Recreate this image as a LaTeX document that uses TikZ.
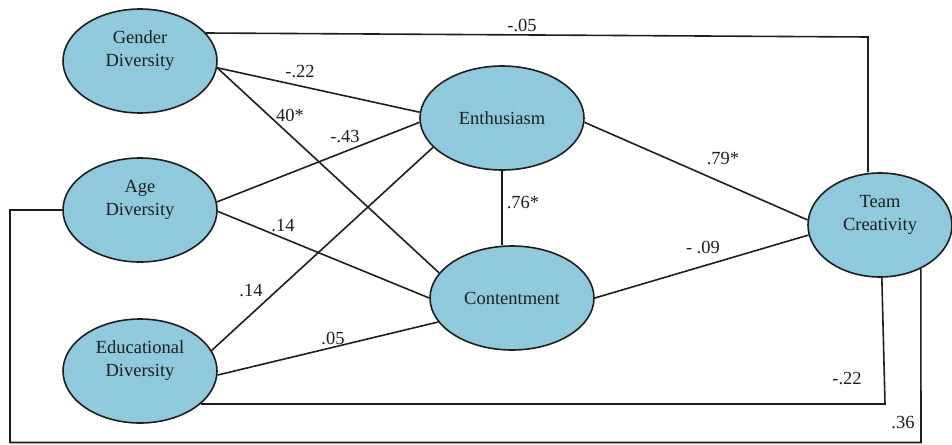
\documentclass[tikz,border=0pt]{standalone}
\usepackage{fontspec}
\setmainfont{Liberation Serif}
\usetikzlibrary{shapes.geometric}
\definecolor{fillblue}{RGB}{143,201,219}
\definecolor{ink}{RGB}{30,30,30}
\begin{document}
\begin{tikzpicture}[x=1pt,y=-1pt,
  latent/.style={ellipse,draw=ink,line width=1.6pt,fill=fillblue,inner sep=0pt,
                 font=\fontsize{18.5}{23}\selectfont,text=ink},
  txt/.style={font=\fontsize{18.5}{23}\selectfont,text=ink,align=center,inner sep=0pt},
  lbl/.style={font=\fontsize{18.5}{22}\selectfont,text=ink,inner sep=0pt},
  conn/.style={draw=ink,line width=1.6pt}]
\useasboundingbox (0,0) rectangle (952,444);

% latent variables
\node[latent,minimum width=154pt,minimum height=104pt] (G)  at (140,61)  {};
\node[latent,minimum width=154pt,minimum height=104pt] (A)  at (140,210) {};
\node[latent,minimum width=154pt,minimum height=104pt] (Ed) at (140,371) {};
\node[latent,minimum width=164pt,minimum height=104pt] (En) at (502,118) {Enthusiasm};
\node[latent,minimum width=164pt,minimum height=104pt] (C)  at (512,298) {Contentment};
\node[latent,minimum width=144pt,minimum height=104pt] (T)  at (880,225) {};

\node[txt] (Gt)  at (140,51)  {Gender\\Diversity};
\node[txt] (At)  at (140,200) {Age\\Diversity};
\node[txt] (Edt) at (140,361) {Educational\\Diversity};
\node[txt] (Tt)  at (880,215) {Team\\Creativity};

% corner points
\coordinate (c1) at (868,37);
\coordinate (c2) at (885,404);
\coordinate (c3) at (921,442.5);
\coordinate (c4) at (10,442.5);
\coordinate (c5) at (10,210);

% connectors
\draw[conn] (G.23) -- (c1) -- (c1 |- T.north);
\draw[conn] (G.-5) -- (En.176);
\draw[conn] (G.-5) -- (C.161);
\draw[conn] (A.6) -- (En.183);
\draw[conn] (A.-1) -- (C.180);
\draw[conn] (Ed.16) -- (En.203);
\draw[conn] (Ed.-3) -- (C.198);
\draw[conn] (En.south) -- (En.south |- C.north);
\draw[conn] (En.-3) -- (T.176);
\draw[conn] (C.east) -- (T.188);
\draw[conn] (T.-88) -- (c2) -- (c2 -| Ed.-28);
\draw[conn] (T.-47) -- (c3) -- (c4) -- (c5) -- (A.west);

% coefficients
\node[lbl] (l1)  at (522,25)  {-.05};
\node[lbl] (l2)  at (300,72)  {-.22};
\node[lbl] (l3)  at (290,115) {40*};
\node[lbl] (l4)  at (345,137) {-.43};
\node[lbl] (l5)  at (283,226) {.14};
\node[lbl] (l6)  at (251,291) {.14};
\node[lbl] (l7)  at (333,338) {.05};
\node[lbl] (l8)  at (523,203) {.76*};
\node[lbl] (l9)  at (723,159) {.79*};
\node[lbl] (l10) at (703,247) {- .09};
\node[lbl] (l11) at (847,379) {-.22};
\node[lbl] (l12) at (903,423) {.36};
\end{tikzpicture}
\end{document}
